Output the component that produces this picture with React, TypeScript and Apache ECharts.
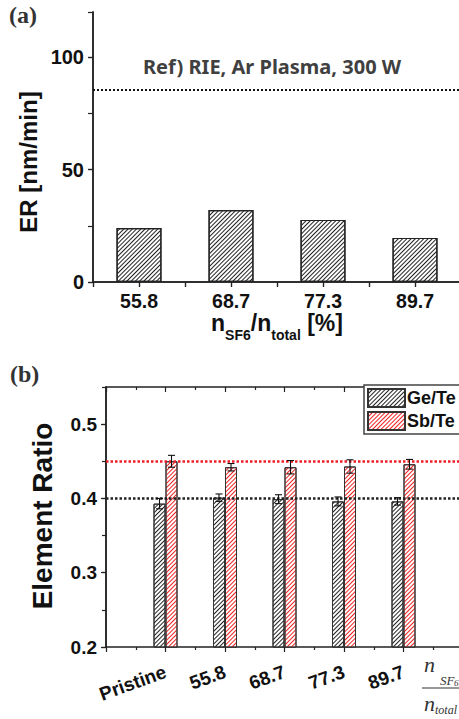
import React, { useEffect, useRef } from "react";
import * as echarts from "echarts";

// ---- Data: panel (a) ----
const catsA = ["55.8", "68.7", "77.3", "89.7"];
const erValues = [24.0, 32.0, 27.6, 19.6];
const refER = 85.4;
const yTicksA = [0, 50, 100];

// ---- Data: panel (b) ----
const catsB = ["Pristine", "55.8", "68.7", "77.3", "89.7"];
const geTe = [0.393, 0.401, 0.399, 0.396, 0.396];
const geTeErr = [0.007, 0.005, 0.006, 0.006, 0.005];
const sbTe = [0.45, 0.442, 0.442, 0.443, 0.446];
const sbTeErr = [0.008, 0.005, 0.009, 0.009, 0.0065];
const refGe = 0.399;
const refSb = 0.454;
const yTicksB = [0.2, 0.3, 0.4, 0.5];

const AX = "#222";
const TXT = "#111";
const SANS = "'Liberation Sans', Arial, sans-serif";
const SERIF = "'Liberation Serif', 'Times New Roman', serif";

export default function App() {
  const ref = useRef<HTMLDivElement>(null);
  useEffect(() => {
    if (!ref.current) return;
    const chart = echarts.init(ref.current, undefined, { renderer: "svg" });

    const posA = catsA.map((_, i) => 2 * i + 1);
    const posB = catsB.map((_, i) => i + 1);

    const axisLine = { show: true, lineStyle: { color: AX, width: 1.5 } };

    const hatchA = {
      symbol: "rect",
      symbolSize: 1,
      dashArrayX: [1, 0],
      dashArrayY: [1, 2],
      rotation: -Math.PI / 4,
      color: "#222",
    };
    const hatchGe = {
      symbol: "rect",
      symbolSize: 1,
      dashArrayX: [1, 0],
      dashArrayY: [1, 1.2],
      rotation: -Math.PI / 4,
      color: "#222",
    };
    const hatchSb = {
      symbol: "rect",
      symbolSize: 1,
      dashArrayX: [1, 0],
      dashArrayY: [1, 1.2],
      rotation: -Math.PI / 4,
      color: "#ee2222",
    };

    const errData: number[][] = [];
    posB.forEach((x, i) => {
      errData.push([x, geTe[i] - geTeErr[i], geTe[i] + geTeErr[i], -1]);
      errData.push([x, sbTe[i] - sbTeErr[i], sbTe[i] + sbTeErr[i], 1]);
    });

    const fracStyle = (size: number) => ({
      font: `italic ${size}px ${SERIF}`,
      fill: "#333",
      align: "left",
      verticalAlign: "middle",
    });

    const option: any = {
      animation: false,
      textStyle: { fontFamily: SANS },
      grid: [
        { left: 93, top: 12, width: 368, height: 270 },
        { left: 106, top: 387, width: 357, height: 260 },
      ],
      xAxis: [
        {
          gridIndex: 0,
          type: "value",
          min: 0,
          max: 8,
          interval: 1,
          position: "bottom",
          axisLine,
          axisTick: { show: true, inside: false, length: 5, lineStyle: { color: AX, width: 1.2 } },
          splitLine: { show: false },
          axisLabel: {
            customValues: posA,
            formatter: (v: number) => catsA[Math.round((v - 1) / 2)] ?? "",
            fontSize: 19.5,
            fontWeight: "bold",
            color: TXT,
            margin: 9,
          },
          name: "{a|n}{s|SF6}{a|/n}{s|total}{a| [%]}",
          nameLocation: "middle",
          nameGap: 28,
          nameTextStyle: {
            rich: {
              a: { fontSize: 23, fontWeight: "bold", color: TXT, fontFamily: SANS, lineHeight: 24, verticalAlign: "top" },
              s: { fontSize: 14, fontWeight: "bold", color: TXT, fontFamily: SANS, lineHeight: 30, verticalAlign: "bottom" },
            },
          },
        },
        {
          gridIndex: 0,
          type: "value",
          min: 0,
          max: 8,
          interval: 1,
          position: "top",
          axisLine,
          axisTick: { show: true, inside: true, length: 5, lineStyle: { color: AX, width: 1.2 } },
          axisLabel: { show: false },
          splitLine: { show: false },
        },
        {
          gridIndex: 1,
          type: "value",
          min: 0,
          max: 6,
          interval: 1,
          position: "bottom",
          axisLine,
          axisTick: { show: true, inside: false, length: 5, lineStyle: { color: AX, width: 1.2 } },
          minorTick: { show: true, splitNumber: 2, length: 3, lineStyle: { color: AX, width: 1.2 } },
          splitLine: { show: false },
          axisLabel: {
            customValues: posB,
            formatter: (v: number) => catsB[Math.round(v) - 1] ?? "",
            fontSize: 19,
            fontWeight: "bold",
            color: TXT,
            rotate: 20,
            margin: 24,
          },
        },
        {
          gridIndex: 1,
          type: "value",
          min: 0,
          max: 6,
          interval: 1,
          position: "top",
          axisLine,
          axisTick: { show: true, inside: true, length: 5, lineStyle: { color: AX, width: 1.2 } },
          minorTick: { show: true, splitNumber: 2, length: 3, lineStyle: { color: AX, width: 1.2 } },
          axisLabel: { show: false },
          splitLine: { show: false },
        },
      ],
      yAxis: [
        {
          gridIndex: 0,
          type: "value",
          min: 0,
          max: 120,
          interval: 25,
          position: "left",
          axisLine,
          axisTick: { show: true, inside: false, length: 5, customValues: yTicksA, lineStyle: { color: AX, width: 1.2 } },
          axisLabel: {
            customValues: yTicksA,
            fontSize: 20,
            fontWeight: "bold",
            color: TXT,
            margin: 9,
          },
          splitLine: { show: false },
        },
        {
          gridIndex: 0,
          type: "value",
          min: 0,
          max: 120,
          interval: 25,
          position: "right",
          axisLine,
          axisTick: { show: true, inside: true, length: 5, lineStyle: { color: AX, width: 1.2 } },
          axisLabel: { show: false },
          splitLine: { show: false },
        },
        {
          gridIndex: 1,
          type: "value",
          min: 0.2,
          max: 0.55,
          interval: 0.05,
          position: "left",
          axisLine,
          axisTick: { show: true, inside: false, length: 5, customValues: yTicksB, lineStyle: { color: AX, width: 1.2 } },
          axisLabel: {
            customValues: yTicksB,
            formatter: (v: number) => v.toFixed(1),
            fontSize: 19,
            fontWeight: "bold",
            color: TXT,
            margin: 9,
          },
          splitLine: { show: false },
        },
        {
          gridIndex: 1,
          type: "value",
          min: 0.2,
          max: 0.55,
          interval: 0.05,
          position: "right",
          axisLine,
          axisTick: { show: true, inside: true, length: 4, lineStyle: { color: AX, width: 1.2 } },
          axisLabel: { show: false },
          splitLine: { show: false },
        },
      ],
      legend: {
        data: ["Ge/Te", "Sb/Te"],
        orient: "vertical",
        left: 364,
        top: 385,
        itemWidth: 37,
        itemHeight: 18,
        itemGap: 3,
        padding: [3, 40, 3, 3],
        borderColor: "#444",
        borderWidth: 1.5,
        borderRadius: 0,
        backgroundColor: "#fff",
        icon: "rect",
        textStyle: { fontSize: 18, fontWeight: "bold", color: TXT, fontFamily: SANS, padding: [0, 0, 0, -3] },
        z: 10,
      },
      graphic: [
        {
          type: "text",
          left: 9,
          top: 3,
          style: { text: "(a)", font: `bold 24px ${SERIF}`, fill: "#333" },
        },
        {
          type: "text",
          left: 10,
          top: 362,
          style: { text: "(b)", font: `bold 24px ${SERIF}`, fill: "#333" },
        },
        {
          type: "text",
          x: 28,
          y: 162,
          rotation: Math.PI / 2,
          style: {
            text: "ER [nm/min]",
            font: `bold 24px ${SANS}`,
            fill: TXT,
            align: "center",
            verticalAlign: "middle",
          },
        },
        {
          type: "text",
          x: 42,
          y: 516,
          rotation: Math.PI / 2,
          style: {
            text: "Element Ratio",
            font: `bold 28px ${SANS}`,
            fill: TXT,
            align: "center",
            verticalAlign: "middle",
          },
        },
        {
          type: "text",
          x: 272,
          y: 66,
          style: {
            text: "Ref) RIE, Ar Plasma, 300 W",
            font: `bold 20px 'Noto Sans', sans-serif`,
            fill: "#404040",
            align: "center",
            verticalAlign: "middle",
          },
        },
        { type: "text", x: 424, y: 664, style: { text: "n", ...fracStyle(22) } },
        { type: "text", x: 440, y: 680, style: { text: "SF", ...fracStyle(13) } },
        { type: "text", x: 454, y: 683, style: { text: "6", ...fracStyle(9) } },
        {
          type: "line",
          shape: { x1: 422, y1: 688, x2: 462, y2: 688 },
          style: { stroke: "#333", lineWidth: 1.2 },
        },
        { type: "text", x: 424, y: 703, style: { text: "n", ...fracStyle(22) } },
        { type: "text", x: 435, y: 710, style: { text: "total", ...fracStyle(12) } },
      ],
      series: [
        {
          name: "ER",
          type: "bar",
          xAxisIndex: 0,
          yAxisIndex: 0,
          data: posA.map((x, i) => [x, erValues[i]]),
          barWidth: 45,
          itemStyle: { color: "#fff", borderColor: "#222", borderWidth: 1.2, decal: hatchA },
          markLine: {
            silent: true,
            symbol: ["none", "none"],
            label: { show: false },
            lineStyle: { color: "#111", type: [2, 2], width: 2 },
            data: [{ yAxis: refER }],
          },
        },
        {
          name: "Ge/Te",
          type: "bar",
          xAxisIndex: 2,
          yAxisIndex: 2,
          data: posB.map((x, i) => [x, geTe[i]]),
          barWidth: 12,
          barGap: "0%",
          itemStyle: { color: "#fff", borderColor: "#333", borderWidth: 1, decal: hatchGe },
          markLine: {
            silent: true,
            symbol: ["none", "none"],
            label: { show: false },
            lineStyle: { color: "#222", type: [2.5, 2], width: 2.5 },
            data: [{ yAxis: refGe }],
          },
        },
        {
          name: "Sb/Te",
          type: "bar",
          xAxisIndex: 2,
          yAxisIndex: 2,
          data: posB.map((x, i) => [x, sbTe[i]]),
          barWidth: 12,
          barGap: "0%",
          itemStyle: { color: "#fff", borderColor: "#333", borderWidth: 1, decal: hatchSb },
          markLine: {
            silent: true,
            symbol: ["none", "none"],
            label: { show: false },
            lineStyle: { color: "#ee1c24", type: [2.5, 2], width: 2.5 },
            data: [{ yAxis: refSb }],
          },
        },
        {
          name: "err",
          type: "custom",
          xAxisIndex: 2,
          yAxisIndex: 2,
          data: errData,
          z: 5,
          renderItem: (_params: any, api: any) => {
            const x = api.value(0);
            const lo = api.coord([x, api.value(1)]);
            const hi = api.coord([x, api.value(2)]);
            const cx = lo[0] + api.value(3) * 6;
            const w = 3.5;
            const st = { stroke: "#111", lineWidth: 1.1 };
            return {
              type: "group",
              children: [
                { type: "line", shape: { x1: cx, y1: lo[1], x2: cx, y2: hi[1] }, style: st },
                { type: "line", shape: { x1: cx - w, y1: lo[1], x2: cx + w, y2: lo[1] }, style: st },
                { type: "line", shape: { x1: cx - w, y1: hi[1], x2: cx + w, y2: hi[1] }, style: st },
              ],
            };
          },
        },
      ],
    };

    chart.setOption(option);
    return () => chart.dispose();
  }, []);

  return (
    <div style={{ position: "fixed", left: 0, top: 0, width: 459, height: 719, overflow: "hidden", background: "#fff" }}>
      <div ref={ref} style={{ width: 466, height: 719 }} />
    </div>
  );
}
